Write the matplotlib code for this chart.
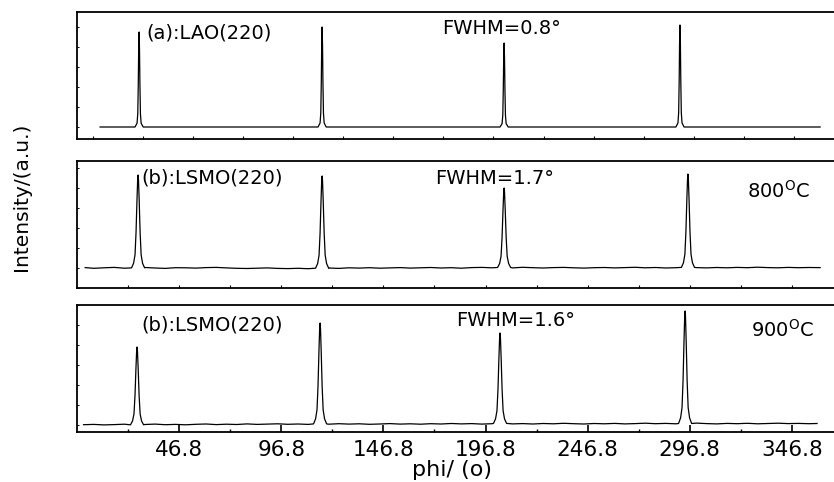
import numpy as np
import matplotlib
matplotlib.use('Agg')
import matplotlib.pyplot as plt
from matplotlib.ticker import FixedLocator, NullFormatter

plt.rcParams['font.family'] = ['DejaVu Sans']
plt.rcParams['mathtext.fontset'] = 'dejavusans'

# datos (phi en grados, intensidad en u.a.)
phi_grid = list(range(0, 365, 5))

# (a) LAO(220)
pos_a = [27.2, 116.8, 205.9, 292.0]
alt_a = [95, 100, 84, 102]
rango_a = [8.1, 360.6]
base_a = [0.0] * len(phi_grid)

# (b) LSMO(220) 800 C
pos_b = [26.7, 116.8, 205.9, 295.9]
alt_b = [93, 92, 80, 94]
rango_b = [0.8, 360.6]
base_b = [0.4, -0.3, 0.2, 0.6, -0.2, 0.1, 0.5, 0.0, -0.4, 0.3, 0.2, -0.1, 0.4, 0.6,
          0.1, -0.3, -0.5, -0.2, 0.1, -0.4, -0.6, -0.3, -0.7, -0.2, 0.0, -0.4, 0.2,
          -0.1, 0.3, -0.2, 0.1, 0.4, -0.1, 0.2, 0.5, 0.0, 0.3, -0.2, 0.4, 0.6, 0.2,
          0.5, 0.1, 0.7, 0.3, 0.0, 0.4, 0.6, 0.2, -0.1, 0.3, 0.5, 0.1, 0.4, 0.7,
          0.2, 0.5, 0.0, 0.3, 0.6, 0.4, 0.1, 0.5, 0.2, 0.6, 0.3, 0.8, 0.4, 0.2,
          0.6, 0.3, 0.5, 0.4]

# (b) LSMO(220) 900 C
pos_c = [26.2, 115.8, 203.9, 294.5]
alt_c = [78, 102, 92, 114]
rango_c = [0.0, 359.1]
base_c = [0.3, 0.6, 0.1, 0.4, 0.8, 0.2, 0.5, 0.9, 0.3, 0.6, 0.2, 0.7, 1.0, 0.4,
          0.8, 0.5, 1.1, 0.6, 0.9, 1.2, 0.7, 1.0, 0.6, 1.1, 0.8, 1.3, 0.9, 1.2,
          0.7, 1.0, 1.4, 0.9, 1.2, 0.8, 1.3, 1.0, 1.5, 1.1, 1.4, 0.9, 1.3, 1.6,
          1.1, 1.4, 1.0, 1.5, 1.2, 1.7, 1.3, 1.0, 1.5, 1.2, 1.6, 1.1, 1.4, 1.8,
          1.3, 1.6, 1.2, 1.5, 1.9, 1.4, 1.1, 1.6, 1.3, 1.7, 1.2, 1.5, 1.8, 1.4,
          1.6, 1.3, 1.5]

# forma de los picos (desplazamiento en grados, altura relativa)
off_fino = [-2.0, -1.0, -0.65, -0.4, -0.2, 0.0, 0.2, 0.4, 0.65, 1.0, 2.0]
rel_fino = [0.0, 0.04, 0.14, 0.45, 0.82, 1.0, 0.82, 0.45, 0.14, 0.04, 0.0]
off_ancho = [-3.2, -2.2, -1.5, -1.0, -0.55, -0.2, 0.0, 0.2, 0.55, 1.0, 1.5, 2.2, 3.2]
rel_ancho = [0.0, 0.05, 0.14, 0.38, 0.72, 0.95, 1.0, 0.95, 0.72, 0.38, 0.14, 0.05, 0.0]


def armar(base, pos, alt, rango, off, rel):
    pts = []
    for p, b in zip(phi_grid, base):
        if rango[0] < p < rango[1] and all(abs(p - c) > off[-1] for c in pos):
            pts.append((p, b))
    pts.append((rango[0], base[0]))
    pts.append((rango[1], base[-1]))
    for c, h in zip(pos, alt):
        b0 = base[int(round(c / 5))]
        for o, r in zip(off, rel):
            pts.append((c + o, b0 + (h - b0) * r if r > 0 else b0))
    pts.sort()
    return [p[0] for p in pts], [p[1] for p in pts]


fig = plt.figure(figsize=(8.34, 4.82), dpi=100)
W, H = 834, 482
izq = 77 / W
ancho = 1 - izq
alto = 127 / H

ax1 = fig.add_axes([izq, 1 - 139 / H, ancho, alto])
ax2 = fig.add_axes([izq, 1 - 288 / H, ancho, alto])
ax3 = fig.add_axes([izq, 1 - 432 / H, ancho, alto])

x, y = armar(base_a, pos_a, alt_a, rango_a, off_fino, rel_fino)
ax1.plot(x, y, color='black', lw=0.9)
x, y = armar(base_b, pos_b, alt_b, rango_b, off_ancho, rel_ancho)
ax2.plot(x, y, color='black', lw=0.9)
x, y = armar(base_c, pos_c, alt_c, rango_c, off_ancho, rel_ancho)
ax3.plot(x, y, color='black', lw=0.9)

ax1.set_ylim(-12, 115)
ax2.set_ylim(-20, 107)
ax3.set_ylim(-7, 120)

for ax in (ax1, ax2, ax3):
    ax.set_xlim(-3.2, 367.4)
    ax.spines['right'].set_visible(False)
    for s in ('left', 'top', 'bottom'):
        ax.spines[s].set_linewidth(1.3)
    ax.tick_params(axis='y', direction='in', length=1.5, width=0.7, labelleft=False)
    ax.yaxis.set_major_locator(FixedLocator(np.arange(-40, 140, 20)))

ax1.xaxis.set_major_locator(FixedLocator(np.arange(4.7, 367, 24.5)))
ax1.tick_params(axis='x', direction='in', length=2.5, width=0.8, labelbottom=False)
ax2.xaxis.set_major_locator(FixedLocator(np.arange(21.8, 367, 25)))
ax2.tick_params(axis='x', direction='in', length=2.5, width=0.8, labelbottom=False)

ax3.xaxis.set_major_locator(FixedLocator([46.8, 96.8, 146.8, 196.8, 246.8, 296.8, 346.8]))
ax3.xaxis.set_minor_locator(FixedLocator([21.8, 71.8, 121.8, 171.8, 221.8, 271.8, 321.8]))
ax3.xaxis.set_minor_formatter(NullFormatter())
ax3.tick_params(axis='x', which='major', direction='in', length=5, width=1.2,
                labelsize=15.5, pad=6)
ax3.tick_params(axis='x', which='minor', direction='in', length=2.5, width=1.0)

def texto(px, py, s, size=14):
    fig.text(px / W, 1 - py / H, s, fontsize=size, ha='left', va='center')

texto(146, 33, '(a):LAO(220)')
texto(442, 29, 'FWHM=0.8°')
texto(141, 178, '(b):LSMO(220)')
texto(435, 178, 'FWHM=1.7°')
texto(747, 191, '800$^{\\mathrm{O}}$C')
texto(141, 325, '(b):LSMO(220)')
texto(456, 321, 'FWHM=1.6°')
texto(751, 330, '900$^{\\mathrm{O}}$C')

fig.text(22 / W, 1 - 197 / H, 'Intensity/(a.u.)', rotation=90, fontsize=14.5,
         ha='center', va='center')
fig.text(452 / W, 1 - 460 / H, 'phi/ (o)', fontsize=16, ha='center', va='top')

fig.savefig('out.png', dpi=100)
